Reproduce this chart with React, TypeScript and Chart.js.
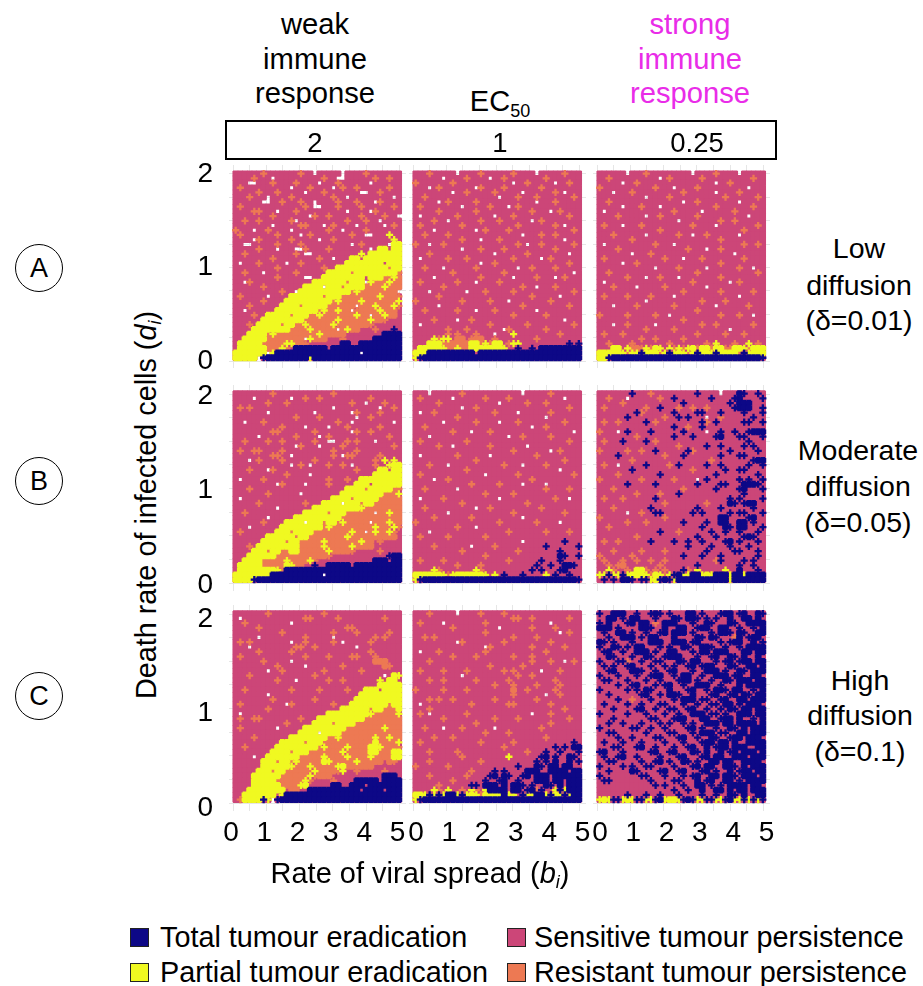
import React, { useEffect, useRef } from "react";
import { Chart, registerables } from "chart.js";

Chart.register(...registerables);

// Sampled parameter values: viral spread b_i (columns) and death rate d_i (rows, top to bottom)
const bGrid = [0.08, 0.22, 0.36, 0.5, 0.64, 0.78, 0.92, 1.06, 1.2, 1.34, 1.48, 1.62, 1.76, 1.9, 2.04, 2.18, 2.32, 2.46, 2.6, 2.74, 2.88, 3.02, 3.16, 3.3, 3.44, 3.58, 3.72, 3.86, 4, 4.14, 4.28, 4.42, 4.56, 4.7, 4.84, 4.98];
const dGrid = [2.0045, 1.954, 1.9035, 1.853, 1.8025, 1.752, 1.7015, 1.651, 1.6005, 1.55, 1.4995, 1.449, 1.3985, 1.348, 1.2975, 1.247, 1.1965, 1.146, 1.0955, 1.045, 0.9945, 0.944, 0.8935, 0.843, 0.7925, 0.742, 0.6915, 0.641, 0.5905, 0.54, 0.4895, 0.439, 0.3885, 0.338, 0.2875, 0.237, 0.1865, 0.136, 0.0855, 0.035];

// Outcome read per sample: S sensitive, R resistant, Y partial, T total, . no sample
const panelA1 = [
"SSSSSSRSSSSSSSRSS.SSSSS.SSSSRSSSSSSS",
"SSSSRSSS.SSSSSSSSSSRSS..SSSSSSRSSRSS",
"SSS..SSSRSSSSRSSSS.SSSRSSSSSS.SSSSSS",
"SRSSSSSSSSSS.SSSRSSSS.SRSSRSSSSSSRSS",
"SSSSSRSSSRSSSSS.SSSRSSSSSSS..SSRSSSS",
"SSSRSSS.SSSSRSSSSSSSSRSS.SSSSSSSSS.S",
"SSSSSS..SSRSSSRSS.SSSSRSSSRSSS.RSSSS",
"SRSSSSSSSSSSSSSRS..SSSRSSSSRSSSSSSRS",
"SSSSRRSSS.SSSRSSSSSSSSSS.SSSS.RSSSSS",
"SSSSSSSSRSSSSSSS.RSSRSSSSSSRSSSSRSS.",
"SSRSSRSSSSSSR.SSSSSSSSSSRSSSRSS.SSSS",
"SSSSSSSS.SSSSSRRSSS.SRSSSS.SSSSS.SRS",
"RSSS.SSRSSSS.SSSSSSSRSS.SSSSRSSSSSSS",
"SRSSSSSSSRSSSS.SRSSSSSSSSRSS..SSSYSS",
"SSSS.RSSSSSSRSSSSS.SSRSSSSSSSSSSSSYS",
"SS..SSSSSRSSSSRSSSSSSSSSS.SRSSSSS.YY",
"SSSSSRSSS.SSS..RSSSSRSSSSSSSS.SYYSYY",
"SSRSSSSSSSSSSRS..SSSSSSSSSSYSYYYYYYY",
"SSSSSSSSRSSSSSSSSSRSS.SSSYYSYYYYYYYY",
"S.SSSRSSSSS.SSRSSSSSSSSSYYYYYYYYSYYY",
"SSSSSSSSSRSSSSSSSSSRSSYYYYYYYYYYYRYY",
"SSRSSS.SSSSSSRSSSSSSYYYYYRYYYYYYYYYR",
"SSSSSSSSSRSSSSS..SSYYYYYYYYYSYYYRRYR",
"SS.RSSSSSSSSSSSSSYYYYYYYRYYY.YRRRYRR",
"SSSSSSRSSSSSSSSYYYY.YYYRYYYYRRRRYRRR",
"SSSSSSSSSSRSS.YYYYYYYYYYYRYRRRRRRRR.",
"SRSSSSS.SSSSYYYYYYYRYYYRRRRRRRRYRRRR",
"SSSSSSRSSSSYYYYYYYYYYRYRRRRYRRRRRRRY",
"SSSRSSSSSSYYYYRYYYYYRRRRRR.RRRYRRRYR",
"SS.SSSSSSYYYYYYYYYRYRRYRR.RRRRRYRRRS",
"SSSSRSSYYYYYRYYYRRYRRRRRRRYRR.RRYRRS",
"SSSSSSYYYYYYYYYRRRRRRRYRRRRRRYRRRSSS",
"SSSRSYYYYYRYYRRYRRRRRYRRRRRRRRSSSSSS",
"SSSSYYYYYYYYRRRRYRRRRR.RYRRSSSRSSSTS",
"SSSYYYYRYRRRRRRRRRYRRRRRSSSSSSSSTTTT",
"SSYYYYYRRRRRRRR.YRRRSSSRSSSSSSTTTTTT",
"SYYYYYRRRRRYYRRRSSSSSSSTTSSTTTTTTTTT",
"SYYYYYYRRRYRSTTTTTTTSTTTTTTTTTTTTTTT",
"YYYYYYY.YTTTTTTTTTTTTTTTTTT.TTTTTTTT",
"YYYYY.TTTTTTTTTTYTTTTTTTTTTTTTTTTTTT",
];
const panelA2 = [
"SSSRSSSSS.SSSSRSSSSSSRSSSS.SSSSSRSSS",
"SSSSSS.SSSSRSSSS.SSRSSSSSSSSRSSSSSSS",
"RSSSSSSSRSSSSSSSSSSSS.SSRSSSSS.SSRSS",
"SSS.SRSSSSSSS.RSSSSRSSSSSSSRSSSSSSSS",
"SSSSSSSS.SSRSSSSSRSSSSS.SSSSSSRS.SSS",
"SSRSSSSSSSSSSSSSSS.SSSRSSSRSSSSSSSRS",
"SSSSS.SRSSSSSRSSSSSSSSSSSS.SSSRSSSSS",
"SRSSSSSSSS.SSSSSRSSS.SRSSSSSSSSSSSSS",
"SSSSSRSSSSSSSRSSSSSSSSSSSRSSS.SRSSSS",
"S.SSSSSSSRSSSSSSS.SSSRSSSSSSSSSSSRSS",
"SSSSRSS.SSSSSSRSSSRSSSSSS.SRSSSSSSSS",
"SRSSSSSSSSRSSSSSSSSSSSRSSSSSSSRS.SSS",
"SSSS.SSSSSSSS.SRSSSSRSSSSSSSSSSSSSRS",
"SSRSSSSRSSSSSSSSSSSSSSS.SSSRSSRSSSSS",
"SSSSSSSSSSRSSS.SSSRSSSSSSSSSSSSS.SSS",
"RSS.SSRSSSSSSSSSSSSSSSRS.SSRSSSSSSRS",
"SSSSSSSSSS.SSSRSSSSRSSSSSSSSSSRSSSSS",
"SSSRSSSSSSSSSSSSS.SSSSSSRSSSSSSSS.SS",
"S.SSSSSRSSSRSSSSSSSSSRSSSSS.SRSSSSSS",
"SSSSSSSSSSSSSS.SSRSSSSSSSSSSSSSSSRSS",
"SSRSSS.SSSSSSRSSSSSSSS.SSRSSSSRSSSSS",
"SSSSSSSSRSSSSSSSSSSRSSSSSSSSSSSSSS.S",
"SSSS.SSSSSSSSSRSSSSSS.SSSSRSSS.SRSSS",
"SRSSSSSSSRSSS.SSSSRSSSSSSSSSSSSSSSSS",
"SSSSSSRSSSSSSSSSSSSSSSSRSS.SSSRSSSSS",
"SSS.SSSSSSS.SSSRSSSSSRSSSSSSSSSSSSRS",
"SSSSSRSSSSSSSSSSSSSSSSSSSRSSSSS.SSSS",
"RSSSSSSSSSRSSSSSRSSS.SSSSSSSSRSSSSSS",
"SSSSS.SSSSSSSSSSSSSSSSSRSSSSSSSSSRSS",
"SSRSSSSSSRSSS.SSSRSSSSSSSS.SSSSSSSSS",
"SSSSSSSSSSSSSSSSSSSSSRSSSSSSRSSSSSSS",
"SSSSRSSSS.SSRSSSSSSSSSSSSSSSSSSS.SSS",
"S.SSSSSSSSSSSSSSRSSSSSSSRSSSSSSSSSRS",
"SSSSSSSRSSSRSSSSSSS.RSSSSSSSRSSSSSSS",
"SSSSSSSRSRSSSRSSS.SSSYSSSSSSSSSRSSSS",
"SSSSYRYYSRRSRRRSSRSSSSSSSSRSSSSSSSSS",
"SSSYYYRRRRRRYYRYRYYSRYYSSSSSSSSSSTST",
"SYYYYYYRRYRRYYYYYYYYSSTSSTSTTTTTTTTT",
"YYYTTTTTTTTTTSTTTTTTTTTTTTTTTTTTTTTT",
"YTTTTTTTTTTTTTTTTTTTTTTTTTTTTTTTTTTT",
];
const panelA3 = [
"SSSSSS.SSSRSSSSSSSSS.SSSSRSSSS.SSSSS",
"SSRSSSSSSSSSS.SRSSSSSSRSSSSSSSSSSRSS",
"SSSSS.SSRSSSSSSSSSSSSSSSS.SSRSSSSSSS",
"RSSSSSSSSSSSRSSS.SSSSRSSSSSSSSSS.SSS",
"SSS.SSSRSSSSSSSSSSRSSSSSS.SSSSRSSSSS",
"SSSSSSSSSS.SSSSRSSSSSSSSSSSRSSSSSSRS",
"SSRSSSSSSSSSSSSSSS.SSRSSSSSSSS.SSSSS",
"SSSSS.SSSRSSS.SSSSSSSSSSSRSSSSSSSRSS",
"S.SSSSSSSSSSSSSSRSSSSS.SSSSSSRSSSSSS",
"SSSSRSSSSS.SSRSSSSSSSRSSSSSSSSSS.SSS",
"SSSSSSSSSSSSSSSSS.SSSSSSSSRSSRSSSSSS",
"SRSSS.SSSRSSSSSSSSSSRSSSS.SSSSSSSSRS",
"SSSSSSSSSSSSSRSSSSSSSSSSSSSSSSSRSSSS",
"SSSRSSSSSS.SSSSSSRSS.SSRSSSSSS.SSSSS",
"SSSSSSSRSSSSSSSSSSSSSSSSSSRSSSSSSSSS",
"S.SSSSSSSSSSRSSS.SSSSSSSSSSSSSSRSSRS",
"SSSSRSSSSSSSSSSSSSSRSSS.SSRSSSSSSSSS",
"SSSSSSS.SSSRSSSSSSSSSSSSSSSSS.SSSSSS",
"SRSSSSSSSSSSSSRSSS.SSSRSSSSSSSSRSSSS",
"SSSSS.SSRSSSSSSSSSSSSSSSSSRSSSSSSSSS",
"SSSSSSSSSSSS.SSSSRSSSSS.SSSSSSRSS.SS",
"SSRSSSSSSSSSSSSSSSSSSRSSSSSSSSSSSSRS",
"SSSSSSRSSS.SSRSSS.SSSSSSSSRSSSSSSSSS",
"S.SSSSSSSSSSSSSSSSSSRSSSSSSS.SRSSSSS",
"SSSRSSSS.SSSSSRSSSSSSSS.SSSSSSSSSSSS",
"SSSSSSSSSSSSSSSSSSRSSSSSSSRSSSSSSRSS",
"SRSSSSRSSSSRSSSS.SSSSSSSSSSSSS.SSSSS",
"SSSSSSSSSS.SSSSSSSSSSSRSSSSRSSSSSSSS",
"SSS.SSSSRSSSSSSSRSSSSSSSS.SSSSSSRSSS",
"SSSSSSSSSSSSSSSSSSSSSRSSSSSSSSSSSSSS",
"RSSSSSRSSSSSRSS.SSSSSSSSSSRSSSRSS.SS",
"SSSSSSSSSSSSSSSSSSRSSSSSSSSSSSSSSSSS",
"SSS.SSRSSSSS.SSSSSSSSSRSSRSSSSSSSRSS",
"SSSSSSSSSSRSSSSSRSSSSSSSSSSS.SSSSSSS",
"SRSSSRSSSSSSSSSSSSSSSRSSSSSRSSSRSSSS",
"SSSSSSSSSRSSRSSSSSRSSSSSSSSSSSSSSSSS",
"SSRSSSSRSSSSSSSRSSSSSSSRSYSSSRSSYSRS",
"SSSYYSYRRRYRYYSYRYRYYRYYRYYRRYYYRYYY",
"YYYYYYRYYTYYYRYTYYYRYTYYYTYYYYRTYYYY",
"YYTTTTTTTTTTTTTTTTTTTTTTTTTTTTTTTTTT",
];
const panelB1 = [
"SSSSSSSSRSSSSSSSSSSSSRSSSSSSSSSSSSSS",
"SSSS.SSSSSSS.SSRSSRSSSSSSSSSSRSSSSSS",
"SSSSSSSRSSSRSSSSSSSSSSSSSRSS.SSSRSSS",
"SRSRSSSSSSSSSSSSSSSSS.SSSSSSSSS.SSRS",
"SSSSSSS.SSSSSSSSS.SSSSSSS.RSSSSRSSSS",
"SSSSSSSSSSSSSRSSSSRSSSSSSS.SSRSSSSSS",
"SS.SSSRSSSSSSSSSSSSSSSRSS.SSSSSSSS.S",
"SSSSSSSSSSRSSSS.SSSS.SSSRSSSSSSRSSSS",
"SSSSSSSSRRSSSSSSSRSSSSSSS.RSSRSSSSSS",
"SSSSS.SSSSSSSRSSSS.SRSSSSSSSSSSSSRSS",
"SSRSSSSRSSRSSSSSSRSS..SSRSRSSS.SSSSS",
"SSSSSSSSSSSSS.RSSS.SSSSRSSSSSSSSSSRS",
"SRSSRRSSSSRSSSSSSSSSSRSSSSRSSSSSSSSS",
"SSSSSSSSRRSS.SSSSSSSSRS.RRSSSSSRSSSS",
"SSS.SRSSSSRSSSSSSRSSSSSSSSSSSSRSYSYS",
"SSSSSSSSSSSS.SRS.SSSRSSRS.SSSSRSSYYY",
"SSSRSSS.RSSSSSSSSSSSSSSSSSRSSSSYYSYY",
"SSSSSSSSSSSRSSSS.SSSSSSSSSSSSSYYYYYY",
"S.SSSSRSSSSSSSSSSSSSRSSSRSSYYYYYYYYY",
"SSSSSSSSS.RSSSS.SSSSRSSSSSYYYSYYYYYY",
"SSSRSSSSSSSSSSSSSSSSSSSSYYYYRYYYYYRR",
"SSSSSSSRSSSSSS.SSSSSSSSYYYYYYYYYRRRY",
"S.SSSSSSSSSSSSSSSSSSSYYYYRYYYYYRRRRR",
"SSSSSRSSSSSSSSSRSSSYYYY.YYYRYYRRRRRR",
"SSSSSSSSS.SSSSSSSYYYYYYYYYYYRRRRRRRR",
"SSRSSSSSSSSSSSSYYYYYRYYYRRRRRR.RRYRR",
"SSSSSSS.SSSSSYYYYYYYYYYRRRRRRRRRRRRR",
"SSSSSSRSSSSYYYY.YYYRYYRYRRRRR.RRRYRR",
"SSS.SSSSSSYYYYYYYYYRYRRRRRRRRRYRRRYR",
"SRSSSSSSSYYYRYYYYRRRRRRRRYRR.RYRRYRS",
"SSSSSSSYYYYYYRYYRRRRRRRRYRRRRRRRRRRS",
"SSSSSSYYYYYRYYRRRRRYRRRRRRRYRRSRSSSS",
"SSSRSYYYYYYYYYRRRRRYRRRRRYRRRRSSSSSS",
"SSSSYYYRYYRRYYRRRRRRYRRRRRSSSSSRSSSS",
"SSSYYYYYYRRRRRRRRRRRRSSSSSSSSSSSSTTT",
"SSYYYYRRRRRYRRRRYRSSSSSSSSSSSSTTTSTT",
"SYYYYYRRRRRYYRRSSTSSTTTTTSTTTTTTTTTT",
"SYYYYYYYYYRTTTTTTTTTTTTTTTTTTTTTTTTT",
"YYYYYYYYTTTTTTTTTTT.TTTTTTTTTTTTTTTT",
"YYYYTTTTTTTTTTTTTTTTTTTTTTTTTTTTTTTT",
];
const panelB2 = [
"SSS.SSSSSSRSSSSSSSSSSSS.SSSSSRSSSSSS",
"SRSSSSSS.SSSSSSRSSSSRSSSSSSSSSSS.SSS",
"SSSSSRSSSSSSSSSSSS.SSSSSRSSSRSSSSSSS",
"SSSSSSSSSS.SSRSSSSSSSSSSSSSSSSSSSRSS",
"S.SSRSSSSSSSSSSSSRSSSS.SSSSSSRSSSSSS",
"SSSSSSSSSRSSSSSSSSSSSSSSSSSS.SSSSSSS",
"SSSSSS.SSSSSSRSSSS.SSSRSSSSSSSSSRSSS",
"SSRSSSSSSSSSSSSSSSSSSSSSS.SSRSSSSSSS",
"SSSSSSSSRSSS.SSSRSSSSSSSSSSSSSSSSS.S",
"SSS.SSSSSSSSSSSSSSSS.SSRSSSSSRSSSSSS",
"SRSSSSSSSSSRSSSSSSSSSSSSSSSSSSSSSRSS",
"SSSSSRSS.SSSSSSSRSSSSSSS.SSSSSSSSSSS",
"SSSSSSSSSSSSSSSSSSSSSRSSSSSSS.SRSSSS",
"S.SSSSSSSRSSSSSS.SSSSSSSSSRSSSSSSSSS",
"SSSSSSSSSSSSSRSSSSSSSSSSSSSSSSSSRSSS",
"SSSRSSS.SSSSSSSSSSSRSSS.SSSSRSSSSSSS",
"SSSSSSSSSSSRSSSSSSSSSSSSSSSSSSS.SSSS",
"SRSSSSSSSSSSSSS.SSSSSSRSSSSSSSSSSSRS",
"SSSS.SSRSSSSSSSSSSSSSSSSSRSSSSSSSSSS",
"SSSSSSSSSSSSRSSSSSRSSSS.SSSS.SSSSSSS",
"SSRSSSSSS.SSSSSSSSSSSSSSSSSSRSSSSRSS",
"SSSSSSSSSSSSSSSRSSSSSRSSSSSSSSSSSSSS",
"S.SSSSRSSSSSSSSSSS.SSSSSSSSSSSRSS.SS",
"SSSSSSSSSSRSSSSSSSSSSSSSRSSSSSSSSSSS",
"SSRSSSSSSSSSS.SSRSSSSSSSSSSRSSSSSSSS",
"SSSSSSS.SSSSSSSSSSSSSRSSSSSSSSSSRSSS",
"SSSSRSSSSSSSRSSSSSSSSSS.SSSSSSSSSSSS",
"RSSSSSSSSSSSSSSSSSRSSSSSSSRSSSS.SSSS",
"SSSSSSSSSRSSS.SSSSSSSSSSSSSSSSSSSSSS",
"SSS.SSSSSSSSSSSSSSSSRSSSSSSSRSSSSRSS",
"SRSSSSSRSSSSSSSRSSSSSSSSSSSSSSSSSSSS",
"SSSSSSSSSSSSSSSSSSSSSSS.SSSSSSSSTSSS",
"SSSSRSSSSSSS.SSSSRSSSSSSSSSSTSSSSSST",
"SSSSSSSSSSRSSSSSSSSSSSRSSSSSSSSTSSSS",
"SSSSSSSSSSSSSSSRSSSSSSSSSSSSSSSTTSST",
"SRSSSSRSSSSSSSSSSSSSRSSSSSSTSSSTSSSS",
"SSSSSSSSSRSSSSRSSSSSSSSSSSTSSTSSTTTS",
"SSSSYRSSSSSSSYRSSSSSSSSSSTSTSSSTTSSS",
"YYYYYYYRYYYYYYYYSYSTSSSTSSSSYSTSSTSS",
"YTTTTTTTTTTTTTTTTTTTTTTTTTTTTTTTTTTT",
];
const panelB3 = [
"SSSSSSSTSSSRSSSSSSSSSTSSSS.SSSTTSSTS",
"SSRSSS.SSSSSSRSSTSSSSSSSTSSSSTTSSSST",
"SSSSSRSSSSSSSSSSSSTSSSSSSSSSTSTTTSSS",
"SRSSSSSSSSRSSTSSSRSSRSSRSSSSSTTTTSST",
"SSSSSSSSTRSSSSSSTSSSSTTSSSTSSSSTSSST",
"SSSSSSTSSSSSSSRSSTSTSSS.SSRSSSSSSTSS",
"SRSSRSSSSSTSRSSSSSSSSSTRSTSSSSSTTSST",
"SSSSSSSSSSSSSSSSTSSRSSTSSSSSSSSSSSSS",
"RSSS.STSSSSTSSSSSSTSSSS.SSTSSTSSTTTT",
"SSSSSSSSRSSSSSSSTSSSTSSSSTTSSSTTSSST",
"SRSSSTSSSSTSRSSSSSSSSSSSSSSSSSSSTSSS",
"SSSSSSSSSSSSSSSSSRSSSSSTSSTSSSSTSTSS",
"RSSSSSRSSRSSTSSSSSSTRSSSSSSSTSSSSSTS",
"SSSSTSSSSSSSSSRSSSTSSSSSSSTSSSTTSSSS",
"SSSSSSSRSSSSSSSSSSSSSSSSRSSSSSSSSTTT",
"SRSS.SSSSSTSSSSRSTSSSSSTSSTSSSSSTSST",
"SSSSSSSTSSSSSSSSSSSSRSSSSSSTSSTTSSSS",
"SSSSRSSSSSSSSTSSSSSSSSSSSTSSSSSSSSTS",
"RSSSSSSSSRSSSSSSRSSSS.STSSSSSSTSTSST",
"SSSSSSTSSSSSTSSSSSSSSTSSSSTTSSSTTTTS",
"SSSRSSSSSSSSSSSSSSRSSSSSSTSSSSTTSSST",
"SSSSSSSSRSSSSRSSSTSSSSSSSSSSSSSTSSSS",
"SRSSSRSSSSSSTSSSSSSSSSSSSSSSTSTSSSST",
"SSSSSSSSSSSSSSRSSSSSSSSRSSSSTTSTTTSS",
"SSSRSSSSSSSTSSSSSSSSSTSSSSTSSSSSSTSS",
"SSSSSS.SSRSSTTSSSSSSTSTSSSSSTSTTSSST",
"RSSSSSSSSSSSSSRSSSSSSSSSSSTTSSSSTTSS",
"SSSSSSRSSSRSSSSSSSTSSSSTSSTTSSTTSTSS",
"SSRSSSSSSSSSSSSSSSSSSSTSSSSTTSTTSSST",
"SSSSSSSSSSSSSTSSSRSSSSSSTSSTSSTSSSTS",
"SSSSSSSSRSSSSSSSSSSSSTSSSTSSSSSTTTSS",
"SRSSRSSSSSSTSSSSTSSTSSTSSSSTTSTSSSTS",
"SSSSSSSSSSSSSSSSSSSTSSSSTSSSTSSSTSSS",
"SSSRSSSSSRSSSSRSSSSSSSSTSSSSSTTSSSTS",
"RSSSSSSRSSSSSSSSSSTSSSTSSSTSSSSSSSTS",
"SRSSSRSSRSSRSSRSSSSSSSSSSRTSSSSTSTSS",
"SSRSRRSSSSSSSRSSSSSSSTSSSSSSSSTSSTSS",
"SSYRSSRSYYRSRSRSSSTRSYSSSSSYSSTSSSTS",
"YYTYYTYYYYYRYYRYTTYYTTYYYTTTYTTYTTTT",
"STSTSTTTSTTYYTTTYTTTTTTTTTTTYTTTTTTT",
];
const panelC1 = [
"SSSSSSSRSSSSSSSSSSSRSSSSSSSSSSSSSSSS",
"S.SSSSSSSSSSSSSRRSSSSSRSSSSSSSSSRSSS",
"SSRSSSSSSSSS.SSSSSSSSSSSSSSSSSSSSSSS",
"SSSSSRSSSSSSSSSSSSSSSSSSRRSSSSSSSSSS",
"SSSSSSSSSSRSSSSSSSSSSRSSSSRSSSSSSRSS",
"SSSSS.SSSSSSSSSRSSSSS.SSSSSSSSRSRSSS",
"SRSRSSSSSSSS.SSRSSSSSRS.SSSSSRSSSSSS",
"SSS.SSSSSSSSSRRSSRSSSSSSSS.SSSSSSSSS",
"SSSSSRSSSSSSRSSSSSSSSSSSSSSSSRSSSSSS",
"SRSSSSSSSSSSSSSRSSSSRSSSSRRSSSRSSSSS",
"SSSSSSRSSSSS.SSSSSSSSSSSSSSSSSRRRSSS",
"SSSSSSSSSRSSSSS.SSSSSSSRSSSSSSSSRRSS",
"SSSSSSS.SSRSSSSSSSSRSSSSSSSRSSSSSSSS",
"SSSRSSSSSSSSSSSSSRSSSSSSSSSSSSSS.SYY",
"SSSSSSSSSRSSS.SSSSSSRSSRSSSSSSSYSYYS",
"SSSSSSSSSSSSSSSSSSSSSSSSSSSSSSSYYYYY",
"SSRSSSSSSSSSRSSSSSRSSSSSRSSSYYYSYYYY",
"SSSSSSS.SSSSSSSSSSSSSSSSSSSYYYYYYYYY",
"SSSSSSSSRSSSSSSSSRSSSSSSSSYYYYYYYYYY",
"SRSSSSSSSSS.RSSSSSSSSRSSSYYYYYYYYRYY",
"SSSSSSSRSSSSSSSSSSSSSSSYYYYYYRYYRRRY",
"S.SSSSSSSSSSSSSSSSSSYYYYYYYYYYRRRRRY",
"SRSSRRSSSSSSSSRSSSYYYYYYYYYYRRRRRRRR",
"SSSSSSSSSSSRSSSSSYYYYRYYYYRRRRRRRRRR",
"SRSSSSSSS.SSSSSYYYYYYYYYRRRRRRRRYRRR",
"SSSSSSSSSSSSSSYYYY.YYYYRRRRRRRRRRRRR",
"SSSSRSSSSSSSYYYYYYYYRRYRRRRRRRYRRYRR",
"SSSSSSSSSSYYYYYRYYYRRRRRRRRRRRYRRRRY",
"SSRSSSSSSYYYYYYYYYRYRRRRYRRRRYYYRRRR",
"SSSSSSSSYYYYRYYYRRRRRRRYRRRRRYYRRRYY",
"SSSS.SSYYYYYYYRRRRRYRRRRYRRRRYRRRRYY",
"SSSSSSYYYRYYRYRRRRRYYRRRRRYRRRRRSRRS",
"SSSSSSYYYYYYYRRRYRRRRRYYRRRRRRSSSSSS",
"SSSSSYYYRYYRRRRRRYRRRRRYSSRSSSSSRSSS",
"SSSSYYYYYYRRRRRRYRRRRSSSSSSSSSSSTTTS",
"SSSSYYYYYRRRRRRYRSSSSRSSSSTTTTTSTTTT",
"SSSSYYYYYYRRRRYYSSSSSTTSSTTTSTTTTTTT",
"SSSYYYYYYYYSRRSSTTTTTTTTTTTSTTTTSTTT",
"SSYYYYYYYSYTTTTTTTTTTTTTTTTTTTTTTTTT",
"SRYYYYTY.TTTTTTTTTTTTTTTTTTTTTTTTTTT",
];
const panelC2 = [
"SSSRSSSSS.SSSSRSSSSRSSSSSSSSSSSSSSSS",
"SSSSSSSSSSSSSSSSSSSSSRRSSRSSSSSSSRSS",
"SRSSSS.SSSSSSSSRSSSSSSSSSSSSS.SSSSSS",
"SSSSSSSSRSSSSSSSSS.SSSSSSRSSSSRSSSSS",
"SSSSSSSSSSSSSSSRSSSSSSSSSSSSSSS.SRSS",
"SSRSRSSSSSSSSSSSSSSSSRSSSSRSSSSSSSSS",
"SSSSSSSSS.RSSSSSSSSRSSSSSSSSSRSSSSSS",
"SSSSSSSSSSSSSSS.RSSSSSSSSRSSSSSSRSSS",
"S.SSSRSSSSSSSSSRSSSSSSSSSSSSRSSSSSSS",
"SSSSSSSSRSSSSRSSSSSSSRSSSRSSSSSSSSSS",
"SSSRSSSSSSSSSSSSSSSSSSSSSRSSSRSS.SRS",
"SSSSSSSSSSSSSSSSRSSSSSSRSSSSSSSSSSSS",
"SRSSSSRSSSSRSSSSSSSRSRSSSSS.SSSRSSSS",
"SSSSSSSSSS.SSSSSSSSSSSRSSRSSSSSSSSSS",
"SSSRSSRSSSSSSRSSSSSSRSSSSSSSSSRSSSSS",
"SSSSSSSSSSSSSSSSSRSSSRSSSSRSSSSRSSSS",
"RSSSSSRSSSSRSSSSSSSSSRSSRSSSSSRSSSSS",
"SSSSSSSSSSSSSSSSSSSSSRSSSSSS.SSRSSSS",
"SSSRSRSSRSSSSSSSSRSSSSSSSSRSSSSSSSSS",
"S.SSSSSSSSSSRSSSSSSSRRSSSSSSSRSSSSSS",
"SSSRSSSSSSSSSSSSSSSSSSSSSSSSSSSSRSSS",
"SRS.SSSSSSSRSSSSSSSSSSSSS.SSSRSSSSSS",
"SSSSSSRSSSSSSSSSSRSSSSRSSSSSSSSSSRSS",
"SSSSSSSSSSSSSRSSSSSSSSSSSSSSSRSSSSSS",
"SSRSSS.SSSRSSSSSS.SSSSSSSSSRSSSSSSSS",
"SSSSSSSSSSSSSSSRSSSSRSSSSSSSSSSSSSSS",
"SSSSRSSSRSSSSSSSSSSSSSSSSSSSRSSSSSSS",
"SRSSSSSSSSSSSSRSSSSSSRSSSSSSSSSSSSTS",
"SSSSSSSSSSSSSSSSSSSRSSSSSSSSSSTSTSTT",
"SSSRSSSSSRSSSSSSSSSSSSSSRSSSTSSTSSST",
"SSSSSSSSSSRSSSSSSSSSYSSSSSSTTSTSSTTS",
"SSSRSSSSSSSSSSRSSSSSSSSSSSTSTSTSSTST",
"RSSSSSSRSSSSSSSSSSSSSSTSSSTTSTTSTTSS",
"SSSSSSSSSSSSRSSSSTSTSSSSTTTSSTTTTSTT",
"SSSRSSSSSSSRSSSSTTSTTSSTTSTTTSTTTTTT",
"SSSSSSSSRSSSSSSTSSTTSSTSSSTTTSTTSTTT",
"SSSSSRSSSSSSTTSTTTSTSTTTSTSSTTSTSTTT",
"SSSSYRSYSSRSYRSYTTTTSTTSTTRTSSYTYTTT",
"YYYTYTYTTYTYYYRYYYYTYYSTYYTTYTYYTYTT",
"YTTTTTTTTTTTTTTTTTTTTTTTTTTTTTTTTTTT",
];
const panelC3 = [
"TSSTTTSSTSSTTTSTSSSTTSTSSSTTTSTTSSTT",
"SSTTSTSTTSSSTSSSTTSTTTSTSTSSTSSTTSTS",
"TSTSSSTTSTTSRSTTTSSSTSSTTSSSTTSSTTTT",
"TTTSTSSSSTTTSSTSSTTSSTTTSSTTSSTSSTST",
"STSSTTSTSSTSSTTSTTTSTSSSTSTTTSTTSSTT",
"SSTSSTTTSTSTTSSSTSSSSTTSTTSSSRTSTTTS",
"TTSTSSSTSSSTTTSSTTTSTTSSSSTSTTTSSTST",
"TSSTTSTSTTSSSTSTSSTTSSTTTSSTSSTSTTTT",
"STTSSTSSTTTSTSSTTSSSTSTTSTTTSSSTTSTT",
"SSTTSSSTSSTTSSTTTTSSSTSSTTSSTTSTSSTS",
"TSSSTTRSSTSSTTSSSTTSTTSSSTSTTSTTTSTT",
"STSTSSTTSSSTSSTSTSSTTSTTTSSSTTSSTTST",
"SSTTSSSTTTSSTSSTTSSSTSSTTTSTSSTTSTTT",
"TSSSTSSSTSSTTTSSTSTTSSTSSTTTSTTSSTTS",
"STTSSSTSSSTSSTSSSTTTSTSSTSSTTSTTTSTT",
"SSSSTSSTTSSSTSTTSSTSSTTTSSTSSSTSTTTT",
"TSSSSSTSTSTTSSSTSSSTTSSTSTTTSTTSSTST",
"SSTSSSSSSTTSSTSTTTSSTSSSTTSSTTSTTSTT",
"SSSSTSSRSSSTSSSSTSTTTSTTSSTTSSTTSTTT",
"STSSSSTSSTSSSTTSSSTSSTSSTTSTTSTSTTTS",
"SSSTSSSSTTSSTSSTTSSTTSSTSSTSTTSTTSTT",
"TSSSSSTSSSTSSSTSSTSSTTTSTTSTSSTTTSTT",
"SSSTSSSSSSSTTSSSTTTSSSTTSSTTTSTSSTST",
"SSTSSTSSSTSSSTSTSSTSTSSTTTSTTSTTTTST",
"TSSSSSSTTSSTSSTSSSSTTSTSSTSSTTSTSTTT",
"SSTTSSSSSSTSSSSTTSSSTSTTTSTTSSTTSTTT",
"SSSSTSSTSSSSTTSSSTTSSTSSTTSSTTTSTTTS",
"STSSSTSSSTSSSSTSSSTSSSTTTSTTSTSSTTTT",
"SSSTTSSSTTSSTSSSTSSTTSSTSTTTSTTTSSTT",
"TTSSSTSSSSSTTSSTTSSSTTSTSSTSTTSTTTST",
"STSSTTSSTSSSSTSSSTTSSSTTSTTSSTTTSTTT",
"SSTTSSSSSTSSTTSTSSTTSTSSTTSTTSSTTTTS",
"TSSSSTSTSSTTSSSSTSSSTTSTTSSTTTSTSTTT",
"SSTSSSSTTSSSSTTSSTTSSSTTSTSSTSTTTSTT",
"TSSSSSSSSTTSSSTSSSTSTTSSTTSTTTSTTTST",
"STTSSSSSSSSTSSSSTTSSSTSTTSSTTSTSTTTT",
"SSSSSSSSSSSSTSTSSSTSSTTSTSTSTTTTSTTS",
"SSSSSSSSSSSSSSSSTSSTSSTSSTTSTSTTSTTT",
"SSSSSSTSSSTSSTSSSTSSSSTSSTSSTTSTSSTT",
"YYYTTYYYTTYYTTYYYYTTTYYTTYYTTYYTYTYT",
];

const panelRows = [
  [panelA1, panelA2, panelA3],
  [panelB1, panelB2, panelB3],
  [panelC1, panelC2, panelC3],
];

const xTicks = [0, 0.5, 1, 1.5, 2, 2.5, 3, 3.5, 4, 4.5, 5];
const yTicks = [0, 0.25, 0.5, 0.75, 1, 1.25, 1.5, 1.75, 2];

const outcomeCodes = ["T", "Y", "R"];
const outcomeColors: Record<string, string> = { S: "#CC4678", R: "#ED7953", Y: "#F0F921", T: "#0D0887" };

// Layout, in page pixels
const colOrigin = [233, 413, 597];
const colUnit = [33.3, 33.3, 33.3];
const colLabelOffset = [-2, 3, 3];
const rowOrigin = [361, 583, 803];
const rowUnit = [93.5, 94.5, 94.5];
const rowLabelOffset = [0, 2, 5];
const PAD_X = 15;
const PAD_Y = 40;
const Y_AXIS = 45;
const X_AXIS = 45;
const TICK_FONT = { family: "'Liberation Sans', Arial, sans-serif", size: 28 };

function sameNeighbours(rows: string[], r: number, c: number, code: string) {
  return [rows[r - 1]?.[c], rows[r + 1]?.[c], rows[r]?.[c - 1], rows[r]?.[c + 1]].filter((v) => v === code).length;
}

// Samples of one outcome: those inside a patch, or those standing alone.
function pointsOf(rows: string[], code: string, patch?: boolean) {
  const out: { x: number; y: number }[] = [];
  rows.forEach((row, r) => {
    bGrid.forEach((b, c) => {
      const ch = row[c] ?? "S";
      if (code === "S") {
        if (ch !== ".") out.push({ x: b, y: dGrid[r] });
      } else if (ch === code && (sameNeighbours(rows, r, c, code) >= 2) === patch) {
        out.push({ x: b, y: dGrid[r] });
      }
    });
  });
  return out;
}

function Panel({ row, col }: { row: number; col: number }) {
  const ref = useRef<HTMLCanvasElement>(null);
  const plotL = colOrigin[col] - 4;
  const plotR = colOrigin[col] + 173;
  const plotT = Math.round(rowOrigin[row] - 2.1 * rowUnit[row]);
  const plotB = Math.round(rowOrigin[row] + 0.08 * rowUnit[row]);
  const yW = col === 0 ? Y_AXIS : 0;
  const xH = row === 2 ? X_AXIS : 0;
  const left = plotL - PAD_X - yW;
  const top = plotT - PAD_Y;
  const width = plotR - plotL + 2 * PAD_X + yW;
  const height = plotB - plotT + 2 * PAD_Y + xH;

  useEffect(() => {
    const rows = panelRows[row][col];
    const base = { showLine: false };
    // Chart.js paints the first dataset last, so the base layer comes at the end.
    const chart = new Chart(ref.current!, {
      type: "scatter",
      data: {
        datasets: [
          ...outcomeCodes.flatMap((code) => [
            { ...base, label: code, data: pointsOf(rows, code, false), pointRadius: 3.6, pointHoverRadius: 3.6, pointBorderWidth: 2.3, pointBorderColor: outcomeColors[code] },
            { ...base, label: code, data: pointsOf(rows, code, true), pointRadius: 3.4, pointHoverRadius: 3.4, pointBorderWidth: 4.6, pointBorderColor: outcomeColors[code] },
          ]),
          { ...base, label: "S", data: pointsOf(rows, "S"), pointRadius: 3.2, pointHoverRadius: 3.2, pointBorderWidth: 5.2, pointBorderColor: outcomeColors.S },
        ],
      } as any,
      options: {
        responsive: false,
        maintainAspectRatio: false,
        animation: false,
        events: [],
        elements: { point: { pointStyle: "cross", backgroundColor: "rgba(0,0,0,0)" } },
        layout: { padding: { left: PAD_X, right: PAD_X, top: PAD_Y, bottom: PAD_Y } },
        plugins: { legend: { display: false }, tooltip: { enabled: false } },
        scales: {
          x: {
            type: "linear",
            min: (plotL - colOrigin[col]) / colUnit[col],
            max: (plotR - colOrigin[col]) / colUnit[col],
            afterBuildTicks: (s: any) => { s.ticks = xTicks.map((value) => ({ value })); },
            afterFit: (s: any) => { s.height = xH; },
            grid: { color: "#e6e6e6", lineWidth: 1, drawTicks: false },
            border: { display: false },
            ticks: {
              display: row === 2,
              font: TICK_FONT,
              color: "#000",
              padding: 5,
              autoSkip: false,
              maxRotation: 0,
              labelOffset: colLabelOffset[col],
              callback: (v: any) => (Number.isInteger(v) ? String(v) : ""),
            },
          },
          y: {
            type: "linear",
            min: (rowOrigin[row] - plotB) / rowUnit[row],
            max: (rowOrigin[row] - plotT) / rowUnit[row],
            afterBuildTicks: (s: any) => { s.ticks = yTicks.map((value) => ({ value })); },
            afterFit: (s: any) => { s.width = yW; },
            grid: { color: "#e6e6e6", lineWidth: 1, drawTicks: false },
            border: { display: false },
            ticks: {
              display: col === 0,
              font: TICK_FONT,
              color: "#000",
              padding: 16,
              autoSkip: false,
              labelOffset: rowLabelOffset[row],
              callback: (v: any) => (Number.isInteger(v) ? String(v) : ""),
            },
          },
        },
      } as any,
    });
    return () => chart.destroy();
  }, [row, col]);

  return (
    <canvas
      ref={ref}
      width={width}
      height={height}
      style={{ position: "absolute", left, top, width, height, display: "block", filter: "blur(0.5px)" }}
    />
  );
}

const FONT = "'Liberation Sans', Arial, sans-serif";

function Label({ x, y, size = 28.8, color = "#000", children }: any) {
  return (
    <div style={{ position: "absolute", left: x, top: y, transform: "translate(-50%,-50%)", fontFamily: FONT, fontSize: size, color, whiteSpace: "nowrap", lineHeight: 1, textAlign: "center" }}>
      {children}
    </div>
  );
}

const columnHeads = [
  { x: 315, color: "#000", lines: ["weak", "immune", "response"] },
  { x: 690, color: "#E92CE8", lines: ["strong", "immune", "response"] },
];
const headY = [25, 60, 94];
const ecValues = [{ x: 315, t: "2" }, { x: 500, t: "1" }, { x: 697, t: "0.25" }];
const rowTags = [{ y: 268, t: "A" }, { y: 481, t: "B" }, { y: 696, t: "C" }];
const rowNotes = [
  { x: 859, ys: [248, 285, 320], lines: ["Low", "diffusion", "(δ=0.01)"] },
  { x: 858, ys: [450, 486, 522], lines: ["Moderate", "diffusion", "(δ=0.05)"] },
  { x: 860, ys: [680, 715, 751], lines: ["High", "diffusion", "(δ=0.1)"] },
];
const legendItems = [
  { x: 130, y: 938, code: "T", label: "Total tumour eradication" },
  { x: 130, y: 973, code: "Y", label: "Partial tumour eradication" },
  { x: 507, y: 938, code: "S", label: "Sensitive tumour persistence" },
  { x: 507, y: 973, code: "R", label: "Resistant tumour persistence" },
];

export default function App() {
  return (
    <div style={{ position: "fixed", left: 0, top: 0, width: 923, height: 986, background: "#fff", overflow: "hidden" }}>
      {panelRows.map((r, row) => r.map((_, col) => <Panel key={`${row}-${col}`} row={row} col={col} />))}

      {columnHeads.map((h) => h.lines.map((l, i) => (
        <Label key={h.x + l} x={h.x} y={headY[i]} color={h.color} size={29.2}>{l}</Label>
      )))}
      <Label x={500} y={101} size={29}>EC<sub style={{ fontSize: 18, verticalAlign: "-6px", lineHeight: 0 }}>50</sub></Label>
      <div style={{ position: "absolute", left: 225, top: 120, width: 548, height: 36, border: "2px solid #000", boxSizing: "content-box" }} />
      {ecValues.map((v) => <Label key={v.t} x={v.x} y={143} size={27.5}>{v.t}</Label>)}

      {rowTags.map((t) => (
        <div key={t.t} style={{ position: "absolute", left: 15, top: t.y - 24, width: 46, height: 46, border: "1.5px solid #000", borderRadius: "50%", fontFamily: FONT, fontSize: 27, lineHeight: "46px", textAlign: "center" }}>{t.t}</div>
      ))}
      {rowNotes.map((n) => n.lines.map((l, i) => <Label key={l + n.x} x={n.x} y={n.ys[i]} size={28.5}>{l}</Label>))}

      <div style={{ position: "absolute", left: 146, top: 505, transform: "translate(-50%,-50%) rotate(-90deg)", fontFamily: FONT, fontSize: 28.8, whiteSpace: "nowrap", lineHeight: 1 }}>
        Death rate of infected cells (<i>d<sub style={{ fontSize: 18, verticalAlign: "-5px", lineHeight: 0 }}>i</sub></i>)
      </div>
      <Label x={420} y={873} size={29}>
        Rate of viral spread (<i>b<sub style={{ fontSize: 18, verticalAlign: "-5px", lineHeight: 0 }}>i</sub></i>)
      </Label>

      {legendItems.map((l) => (
        <React.Fragment key={l.label}>
          <div style={{ position: "absolute", left: l.x, top: l.y - 10, width: 17, height: 17, background: outcomeColors[l.code], border: "1.5px solid #222" }} />
          <div style={{ position: "absolute", left: l.x === 130 ? 160 : 534, top: l.y - 15, fontFamily: FONT, fontSize: 28.8, lineHeight: 1, whiteSpace: "nowrap" }}>{l.label}</div>
        </React.Fragment>
      ))}
    </div>
  );
}
